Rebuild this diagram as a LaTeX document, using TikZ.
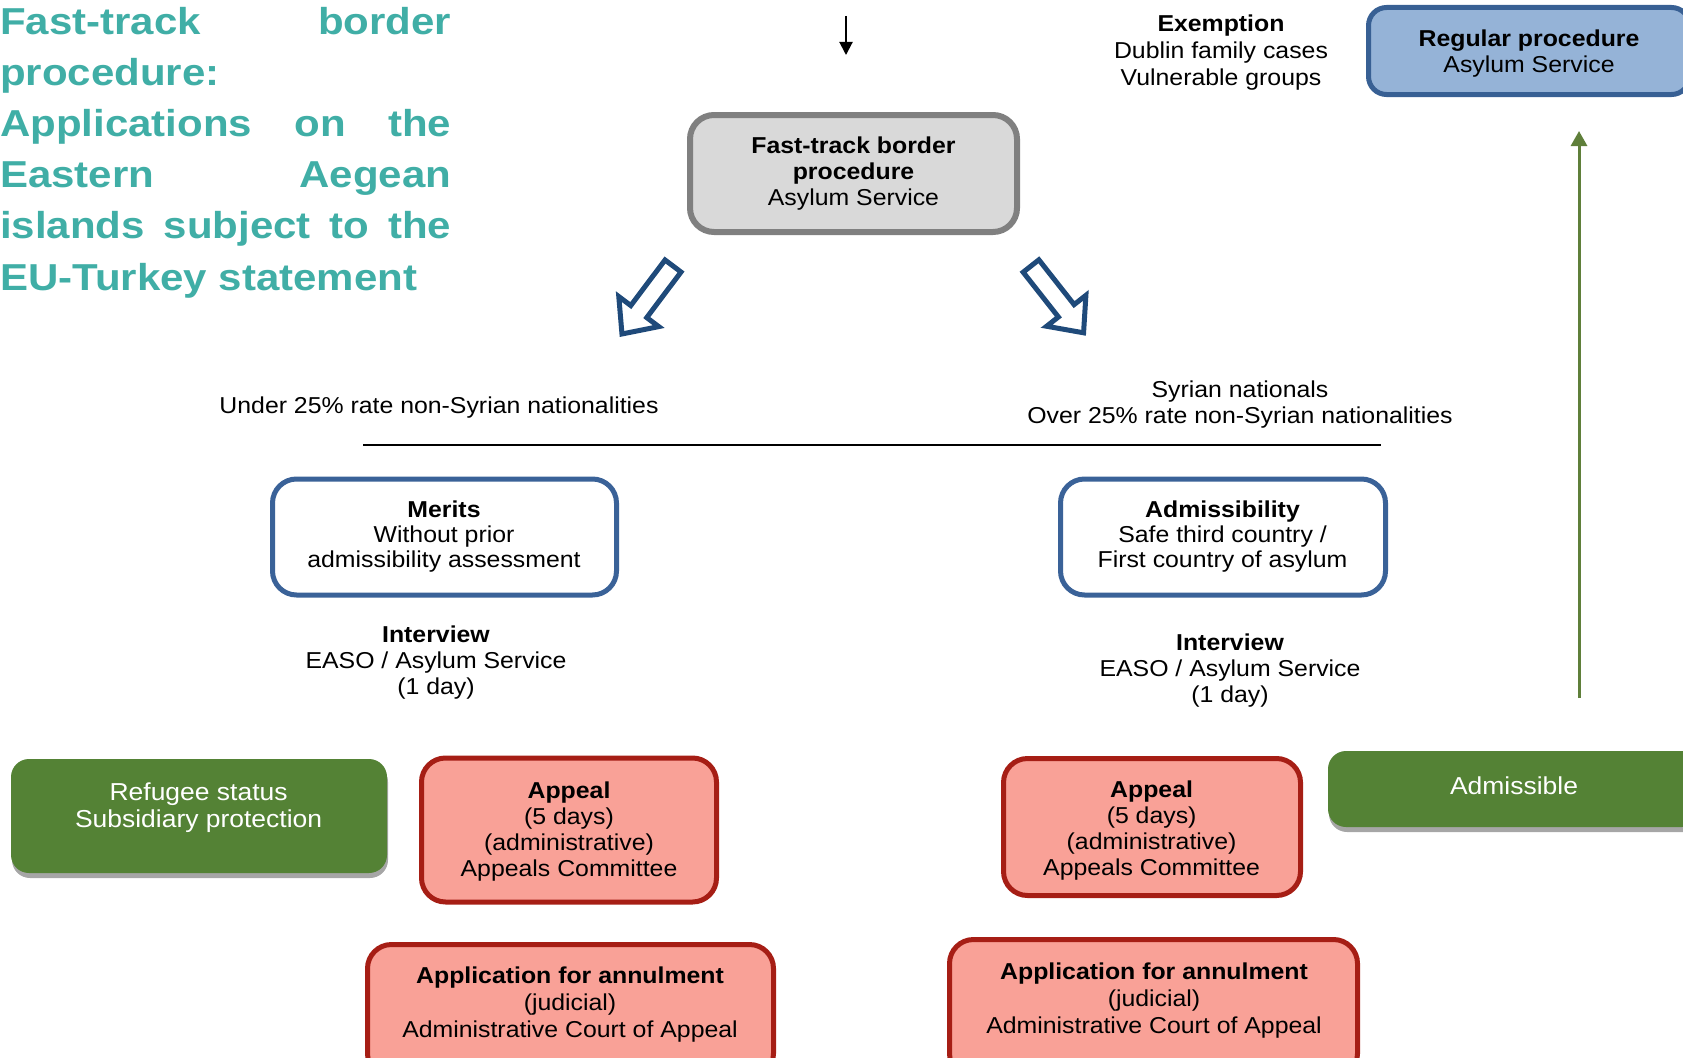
\documentclass[tikz,border=0pt]{standalone}
\usepackage{fontspec}
\setmainfont{Liberation Sans}[FakeStretch=1.08]
\newfontfamily\titlefont{Liberation Sans}[FakeStretch=1.12]
\usetikzlibrary{arrows.meta,shadows}
\definecolor{titlecol}{RGB}{64,174,166}
\definecolor{fastfill}{RGB}{217,217,217}
\definecolor{fastdraw}{RGB}{128,128,128}
\definecolor{regfill}{RGB}{149,179,215}
\definecolor{regdraw}{RGB}{56,96,148}
\definecolor{bluedraw}{RGB}{58,98,152}
\definecolor{redfill}{RGB}{249,161,151}
\definecolor{reddraw}{RGB}{166,30,21}
\definecolor{greenfill}{RGB}{84,130,53}
\definecolor{arrowblue}{RGB}{31,74,122}
\definecolor{olive}{RGB}{95,127,58}
\begin{document}
\begin{tikzpicture}[x=1pt,y=1pt,
  txt/.style={align=center, inner sep=0pt, font=\fontsize{23}{26}\selectfont},
  wtxt/.style={align=center, inner sep=0pt, text=white, font=\fontsize{24.5}{27}\selectfont},
  ttl/.style={anchor=base west, inner sep=0pt, text=titlecol, font=\titlefont\bfseries\fontsize{37.5}{45}\selectfont},
  box/.style={inner sep=0pt, line width=5pt},
  fastbox/.style={box, draw=fastdraw, fill=fastfill, line width=6pt, rounded corners=24pt},
  regbox/.style={box, draw=regdraw, fill=regfill, rounded corners=18pt},
  bluebox/.style={box, draw=bluedraw, fill=white, rounded corners=24pt},
  redbox/.style={box, draw=reddraw, fill=redfill, rounded corners=24pt},
  greenbox/.style={inner sep=0pt, fill=greenfill, rounded corners=18pt,
    drop shadow={shadow xshift=1pt, shadow yshift=-5pt, fill=black, opacity=0.35}},
  hollow/.style={draw=arrowblue, line width=5pt, fill=white, line join=miter}
]
\useasboundingbox (0,0) rectangle (1683,-1057);
\clip (0,0) rectangle (1683,-1057);

% Title
\node[ttl] (t1) at (0,-35) {\makebox[451pt][s]{Fast-track border}};
\node[ttl] (t2) at (0,-85.5) {procedure:};
\node[ttl] (t3) at (0,-136.5) {\makebox[451pt][s]{Applications on the}};
\node[ttl] (t4) at (0,-187) {\makebox[451pt][s]{Eastern Aegean}};
\node[ttl] (t5) at (0,-238) {\makebox[451pt][s]{islands subject to the}};
\node[ttl] (t6) at (0,-290) {EU-Turkey statement};

% top arrow
\coordinate (in1) at (846,-16);
\coordinate (in2) at (846,-55);
\draw[line width=2pt, -{Triangle[width=13pt,length=13pt]}] (in1) -- (in2);

% fast-track box
\node[fastbox, minimum width=327pt, minimum height=117pt] (fast) at (853.5,-173.5) {};
\node[txt] (fasttxt) at (853.5,-174) {\textbf{Fast-track border}\\\textbf{procedure}\\Asylum Service};

% exemption
\node[txt, font=\fontsize{23}{27}\selectfont] (exempt) at (1221,-53) {\textbf{Exemption}\\Dublin family cases\\Vulnerable groups};

% regular procedure
\node[regbox, minimum width=321pt, minimum height=87pt] (regular) at (1529,-51) {};
\node[txt] (regtxt) at (1529,-54) {\textbf{Regular procedure}\\Asylum Service};

% hollow arrows
\begin{scope}[shift={(673,-266)}, rotate=233.1]
  \draw[hollow] (0,-10) -- (57,-10) -- (57,-25) -- (85,0) -- (57,25) -- (57,10) -- (0,10) -- cycle;
\end{scope}
\begin{scope}[shift={(1031,-266)}, rotate=-51.8]
  \draw[hollow] (0,-10) -- (57,-10) -- (57,-25) -- (85,0) -- (57,25) -- (57,10) -- (0,10) -- cycle;
\end{scope}

% split labels and line
\node[txt] (under) at (439,-407.5) {Under 25\% rate non-Syrian nationalities};
\node[txt] (over) at (1240,-405) {Syrian nationals\\Over 25\% rate non-Syrian nationalities};
\coordinate (la) at (363,-445);
\coordinate (lb) at (1381,-445);
\draw[line width=1.6pt] (la) -- (lb);

% merits / admissibility
\node[bluebox, minimum width=344pt, minimum height=116pt] (merits) at (444.5,-537) {};
\node[txt, font=\fontsize{23}{25}\selectfont] (meritstxt) at (444,-537) {\textbf{Merits}\\Without prior\\admissibility assessment};
\node[bluebox, minimum width=325pt, minimum height=116pt] (admiss) at (1223,-537) {};
\node[txt, font=\fontsize{23}{25}\selectfont] (admisstxt) at (1222.5,-537) {\textbf{Admissibility}\\Safe third country /\\First country of asylum};

% interviews
\node[txt] (intL) at (436,-662.5) {\textbf{Interview}\\EASO / Asylum Service\\(1 day)};
\node[txt] (intR) at (1230,-671) {\textbf{Interview}\\EASO / Asylum Service\\(1 day)};

% green arrow
\coordinate (ga) at (1579,-698);
\coordinate (gb) at (1579,-131);
\draw[olive, line width=3pt, -{Triangle[width=16pt,length=15pt]}] (ga) -- (gb);

% outcome boxes
\node[greenbox, minimum width=376pt, minimum height=114pt] (refugee) at (199,-816) {};
\node[wtxt] (refugeetxt) at (198.6,-808) {Refugee status\\Subsidiary protection};
\node[greenbox, minimum width=372pt, minimum height=76pt] (admissible) at (1514,-789) {};
\node[wtxt] (admissibletxt) at (1514,-785.5) {Admissible};

\node[redbox, minimum width=295pt, minimum height=144pt] (appealL) at (569,-830) {};
\node[txt] (appealLtxt) at (569,-832) {\textbf{Appeal}\\(5 days)\\(administrative)\\Appeals Committee};
\node[redbox, minimum width=297pt, minimum height=137pt] (appealR) at (1152,-827) {};
\node[txt] (appealRtxt) at (1151.6,-830.5) {\textbf{Appeal}\\(5 days)\\(administrative)\\Appeals Committee};

\node[redbox, minimum width=406pt, minimum height=133pt] (annulL) at (570.5,-1011) {};
\node[txt, font=\fontsize{23}{27}\selectfont] (annulLtxt) at (570,-1004.5) {\textbf{Application for annulment}\\(judicial)\\Administrative Court of Appeal};
\node[redbox, minimum width=408pt, minimum height=138pt] (annulR) at (1153.5,-1008.5) {};
\node[txt, font=\fontsize{23}{27}\selectfont] (annulRtxt) at (1154,-1001) {\textbf{Application for annulment}\\(judicial)\\Administrative Court of Appeal};
\end{tikzpicture}
\end{document}
